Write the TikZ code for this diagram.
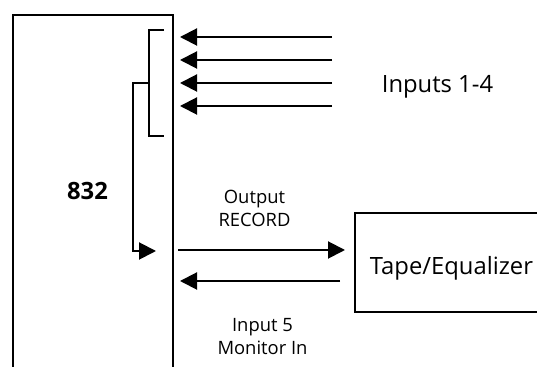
\documentclass[tikz,border=0pt]{standalone}
\usepackage{fontspec}
\setmainfont{Open Sans}
\usetikzlibrary{arrows.meta}
\begin{document}
\begin{tikzpicture}[x=0.5pt,y=-0.5pt,
    >={Triangle[length=8.5pt,width=8.5pt]},
    unit/.style ={draw, line width=1pt, inner sep=0pt},
    wire/.style ={line width=1pt},
    biglabel/.style ={font=\fontsize{11.9}{14}\selectfont, inner sep=0pt},
    smalllabel/.style ={font=\fontsize{9.2}{11.5}\selectfont, align=center, inner sep=0pt}]
   \clip (0,0) rectangle (537,367);
   \node[unit, anchor=north west, minimum width=80pt, minimum height=210pt] (mixer) at (12,14) {};
   \node[unit, anchor=north west, minimum width=105pt, minimum height=49.5pt] (tape) at (354,212) {};
   \node[biglabel, anchor=base, font=\fontsize{11.9}{14}\selectfont\bfseries] (name) at (87.5,200) {832};
   \node[biglabel, anchor=base] (tapelbl) at (451.5,275) {Tape/Equalizer};
   \node[biglabel, anchor=base] (inlbl) at (437.5,93) {Inputs 1-4};
   \node[smalllabel] (outlbl) at (254.5,208) {Output\\RECORD};
   \node[smalllabel] (monlbl) at (262.5,336.5) {Input 5\\Monitor In};
   % inputs 1-4
   \foreach \i/\y in {1/37,2/60,3/83,4/106} {
     \coordinate (src\i) at (332,\y);
     \coordinate (dst\i) at (180,\y);
     \draw[wire, ->] (src\i) -- (dst\i);
   }
   % bus inside the 832
   \coordinate (bustop) at (164,30);
   \coordinate (busbot) at (164,136);
   \coordinate (tap) at (149,83);
   \coordinate (bend) at (133,83);
   \coordinate (busend) at (156,251);
   \draw[wire] (bustop) -| (tap |- busbot) -- (busbot);
   \draw[wire, ->] (tap) -- (bend) |- (busend);
   % record and monitor
   \coordinate (recout) at (178,250);
   \coordinate (recin) at (345,250);
   \coordinate (monout) at (340,281);
   \coordinate (monin) at (180,281);
   \draw[wire, ->] (recout) -- (recin);
   \draw[wire, ->] (monout) -- (monin);
 \end{tikzpicture}
\end{document}
